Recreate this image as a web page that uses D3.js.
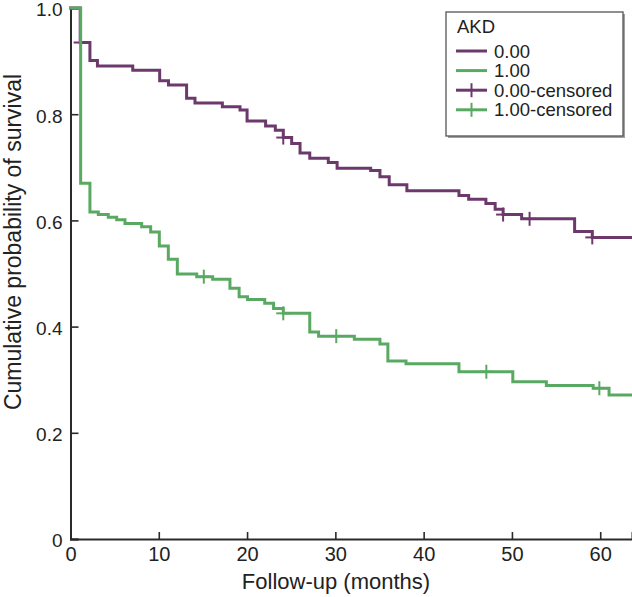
<!DOCTYPE html>
<html><head><meta charset="utf-8">
<script src="https://cdn.jsdelivr.net/npm/d3@7"></script>
<style>body{margin:0;background:#fff}svg{display:block}text{font-family:"Liberation Sans",Arial,sans-serif;fill:#222}</style>
</head><body>
<svg id="c" width="632" height="597"></svg>
<script>
// Data (months, cumulative survival)
const timesAKD0 = [0, 1.1, 2.2, 3.05, 7.05, 10.1, 11.1, 13.15, 14.1, 17.2, 19.2, 20.0, 22.1, 23.2, 24.1, 25.05, 26.0, 27.1, 29.2, 30.2, 34.0, 35.05, 36.1, 38.1, 44.0, 45.1, 47.05, 48.1, 49.0, 51.1, 57.1, 59.1];
const survAKD0  = [1.0, 0.935, 0.901, 0.891, 0.883, 0.863, 0.855, 0.830, 0.821, 0.814, 0.808, 0.787, 0.778, 0.770, 0.756, 0.745, 0.727, 0.717, 0.709, 0.698, 0.694, 0.682, 0.667, 0.656, 0.647, 0.640, 0.632, 0.621, 0.611, 0.603, 0.579, 0.568];
const timesAKD1 = [0, 1.15, 2.2, 3.15, 4.28, 5.23, 6.17, 8.06, 9.08, 10.06, 11.08, 12.1, 14.3, 16.1, 18.06, 19.1, 20.05, 22.0, 23.0, 24.1, 27.1, 28.1, 32.15, 35.05, 35.95, 38.0, 44.0, 50.1, 53.9, 59.2, 61.0];
const survAKD1  = [1.0, 0.670, 0.616, 0.611, 0.606, 0.601, 0.594, 0.588, 0.578, 0.552, 0.527, 0.499, 0.494, 0.489, 0.472, 0.456, 0.451, 0.444, 0.434, 0.425, 0.390, 0.382, 0.376, 0.367, 0.335, 0.330, 0.315, 0.296, 0.289, 0.284, 0.271];
const censorAKD0 = [1.15, 24.1, 49.0, 52.0, 59.1];
const censorAKD1 = [15.1, 24.1, 30.1, 47.1, 59.9];
const xTicks = [0, 10, 20, 30, 40, 50, 60];
const yTicks = [0, 0.2, 0.4, 0.6, 0.8, 1.0];
const xMax = 63.6;
const xTitle = "Follow-up (months)";
const yTitle = "Cumulative probability of survival";
const legendTitle = "AKD";
const legendLabels = ["0.00", "1.00", "0.00-censored", "1.00-censored"];
const colors = {a0: "#6d396c", a1: "#5aa962"};

const svg = d3.select("#c");
const x = d3.scaleLinear().domain([0, xMax]).range([70.5, 632]);
const y = d3.scaleLinear().domain([0, 1]).range([539, 8]);

// axes
const xAxis = d3.axisBottom(x).tickValues(xTicks).tickSize(-7).tickPadding(8).tickFormat(d3.format("d"));
const yAxis = d3.axisLeft(y).tickValues(yTicks).tickSize(-8).tickPadding(8).tickFormat(d => d === 0 ? "0" : d3.format(".1f")(d));
const gx = svg.append("g").attr("transform", "translate(0,539)").call(xAxis);
const gy = svg.append("g").attr("transform", "translate(70.5,0)").call(yAxis);
[gx, gy].forEach(g => {
  g.select(".domain").attr("stroke", "#2a2a2a").attr("stroke-width", 2);
  g.selectAll(".tick line").attr("stroke", "#2a2a2a").attr("stroke-width", 1.6);
  g.selectAll(".tick text").attr("font-family", "Liberation Sans, Arial, sans-serif").attr("fill", "#222");
});
gx.selectAll(".tick text").attr("font-size", 20);
gy.selectAll(".tick text").attr("font-size", 19).attr("dy", "0.42em");

// axis titles
svg.append("text").attr("x", 336).attr("y", 589).attr("text-anchor", "middle").attr("font-size", 22).text(xTitle);
svg.append("text").attr("transform", "translate(21,242) rotate(-90)").attr("text-anchor", "middle").attr("font-size", 23).text(yTitle);

// KM curves
function pts(ts, ss) {
  const p = ts.map((t, i) => [t, ss[i]]);
  p.push([xMax, ss[ss.length - 1]]);
  return p;
}
const line = d3.line().x(d => x(d[0])).y(d => y(d[1])).curve(d3.curveStepAfter);
const stepVal = (ts, ss, t) => ss[d3.bisectRight(ts, t) - 1];

function drawSeries(ts, ss, cens, col) {
  svg.append("path").datum(pts(ts, ss)).attr("d", line).attr("fill", "none")
    .attr("stroke", col).attr("stroke-width", 3).attr("stroke-linejoin", "miter").attr("stroke-linecap", "square");
  const g = svg.append("g").attr("stroke", col).attr("stroke-width", 2);
  cens.forEach(t => {
    const cx = x(t), cy = y(stepVal(ts, ss, t));
    g.append("line").attr("x1", cx - 7).attr("x2", cx + 7).attr("y1", cy).attr("y2", cy);
    g.append("line").attr("x1", cx).attr("x2", cx).attr("y1", cy - 7).attr("y2", cy + 7);
  });
}
drawSeries(timesAKD0, survAKD0, censorAKD0, colors.a0);
drawSeries(timesAKD1, survAKD1, censorAKD1, colors.a1);

// legend
const lg = svg.append("g");
lg.append("rect").attr("x", 448).attr("y", 14).attr("width", 177).attr("height", 124).attr("fill", "#a0a0a0");
lg.append("rect").attr("x", 446).attr("y", 12).attr("width", 177).attr("height", 124).attr("fill", "#fff").attr("stroke", "#555").attr("stroke-width", 1.3);
lg.append("text").attr("x", 457).attr("y", 33).attr("font-size", 18.5).text(legendTitle);
const legCols = [colors.a0, colors.a1, colors.a0, colors.a1];
legendLabels.forEach((lab, i) => {
  const cy = 51 + i * 19.6;
  lg.append("line").attr("x1", 456).attr("x2", 487).attr("y1", cy).attr("y2", cy).attr("stroke", legCols[i]).attr("stroke-width", 3);
  if (i >= 2) lg.append("line").attr("x1", 471.5).attr("x2", 471.5).attr("y1", cy - 7).attr("y2", cy + 7).attr("stroke", legCols[i]).attr("stroke-width", 2);
  lg.append("text").attr("x", 494).attr("y", cy).attr("dy", "0.36em").attr("font-size", 18.5).text(lab);
});
</script>
</body></html>
